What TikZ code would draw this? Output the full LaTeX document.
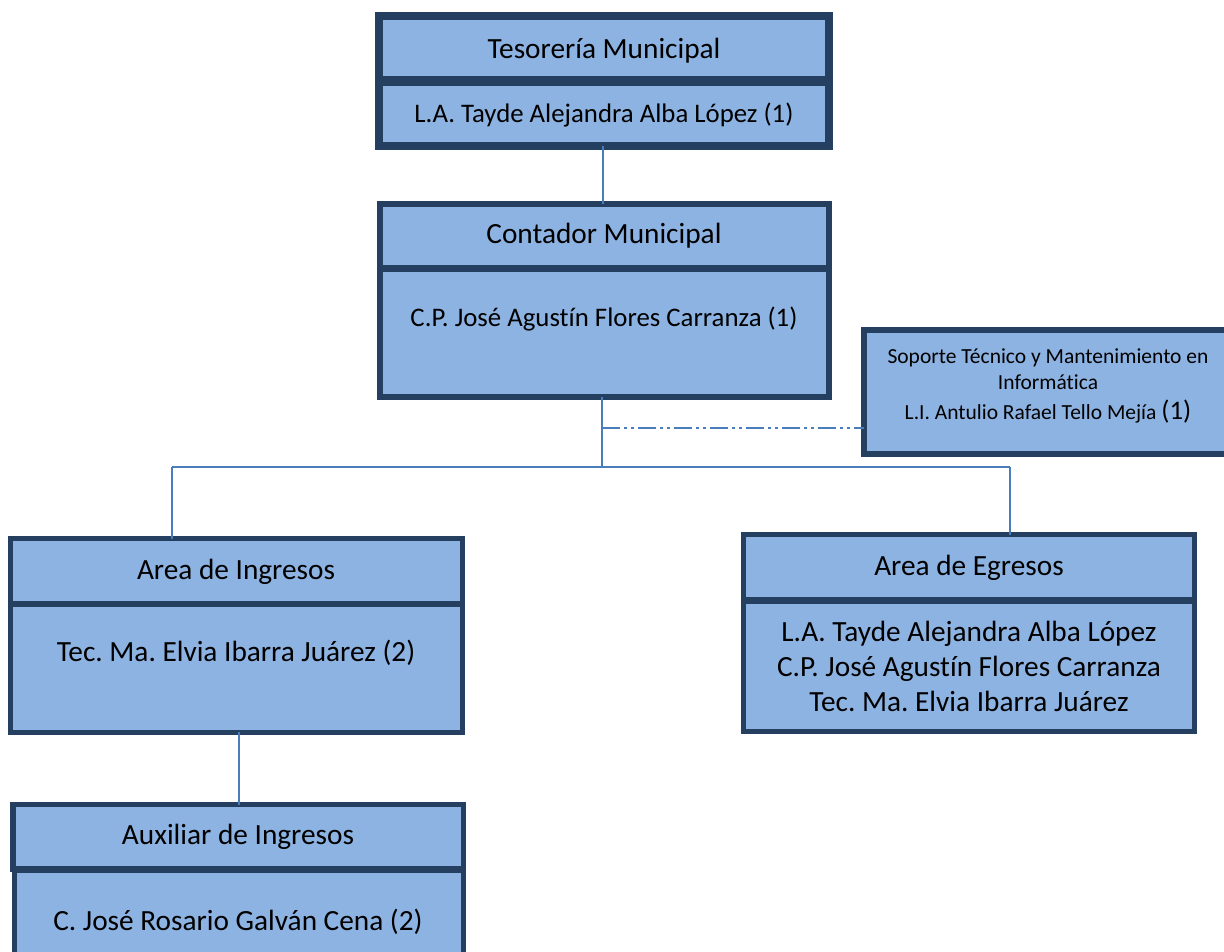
\documentclass[tikz,border=0pt]{standalone}
\usepackage{fontspec}
\setmainfont{Carlito}[Ligatures={NoCommon}]
\definecolor{boxfill}{RGB}{141,179,226}
\definecolor{boxline}{RGB}{36,63,96}
\definecolor{conn}{RGB}{74,126,187}
\frenchspacing
\begin{document}
\begin{tikzpicture}[x=1pt,y=-1pt,
  box/.style={draw=boxline, fill=boxfill, rectangle, inner sep=0pt, outer sep=0pt},
  hd/.style={font=\fontsize{29.3}{35}\selectfont, anchor=base, inner sep=0pt},
  nm/.style={font=\fontsize{26.8}{32}\selectfont, anchor=base, inner sep=0pt},
  sm/.style={font=\fontsize{21.5}{26}\selectfont, anchor=base, inner sep=0pt},
  link/.style={draw=conn, line width=2pt},
  dashdotdot/.style={link, dash pattern=on 18pt off 4pt on 3pt off 4pt on 3pt off 4pt}]
\useasboundingbox (0,0) rectangle (1224,951);
\clip (0,0) rectangle (1224,951);
\fill[white] (0,0) rectangle (1224,951);

% Tesoreria
\node[box, line width=8pt, minimum width=450pt, minimum height=64pt] (tesT) at (604,48) {};
\node[box, line width=8pt, minimum width=450pt, minimum height=64pt] (tesB) at (604,114) {};
\node[hd] (tesTt) at (604,58) {Tesorería Municipal};
\node[nm] (tesBt) at (604,122) {L.A. Tayde Alejandra Alba López (1)};

% Contador
\node[box, line width=6pt, minimum width=449pt, minimum height=64pt] (contT) at (604.5,236) {};
\node[box, line width=6pt, minimum width=449pt, minimum height=128pt] (contB) at (604.5,333) {};
\node[hd] (contTt) at (604,243) {Contador Municipal};
\node[nm] (contBt) at (604,326) {C.P. José Agustín Flores Carranza (1)};

% Soporte
\node[box, line width=6pt, minimum width=371.5pt, minimum height=124pt] (sop) at (1049.25,392) {};
\node[sm] (sop1) at (1048,363) {Soporte Técnico y Mantenimiento en};
\node[sm] (sop2) at (1048,389) {Informática};
\node[sm] (sop3) at (1048,419) {L.I. Antulio Rafael Tello Mejía {\fontsize{26.8}{32}\selectfont(1)}};

% Ingresos
\node[box, line width=5pt, minimum width=451.5pt, minimum height=64.5pt] (ingT) at (236.25,570.75) {};
\node[box, line width=5pt, minimum width=451.5pt, minimum height=128pt] (ingB) at (236.25,668) {};
\node[hd] (ingTt) at (236,579) {Area de Ingresos};
\node[hd] (ingBt) at (236,661) {Tec. Ma. Elvia Ibarra Juárez (2)};

% Egresos
\node[box, line width=5pt, minimum width=451pt, minimum height=64.5pt] (egT) at (969,566.75) {};
\node[box, line width=5pt, minimum width=451pt, minimum height=130.5pt] (egB) at (969,666.25) {};
\node[hd] (egTt) at (969,575) {Area de Egresos};
\node[hd] (egB1) at (969,641) {L.A. Tayde Alejandra Alba López};
\node[hd] (egB2) at (969,676) {C.P. José Agustín Flores Carranza};
\node[hd] (egB3) at (969,711) {Tec. Ma. Elvia Ibarra Juárez};

% Auxiliar
\node[box, line width=5.5pt, minimum width=450.5pt, minimum height=64.5pt] (auxT) at (238.25,836.75) {};
\node[box, line width=5.5pt, minimum width=449pt, minimum height=105pt] (auxB) at (239,922.5) {};
\node[hd] (auxTt) at (238,844) {Auxiliar de Ingresos};
\node[hd] (auxBt) at (238,930) {C. José Rosario Galván Cena (2)};

% connectors
\coordinate (c1) at (603,146);
\draw[link] (c1) -- (c1 |- contT.north);
\coordinate (hubtop) at (602,397);
\coordinate (hub) at (602,467);
\coordinate (jl) at (172,467);
\coordinate (jr) at (1010,467);
\draw[link] (hubtop) -- (hub);
\draw[link] (jl) -- (jr);
\draw[link] (jl) -- (jl |- ingT.north);
\draw[link] (jr) -- (jr |- egT.north);
\coordinate (dd) at (602,428);
\draw[dashdotdot] (dd) -- (dd -| sop.west);
\coordinate (c2) at (239,732);
\draw[link] (c2) -- (c2 |- auxT.north);
\end{tikzpicture}
\end{document}
